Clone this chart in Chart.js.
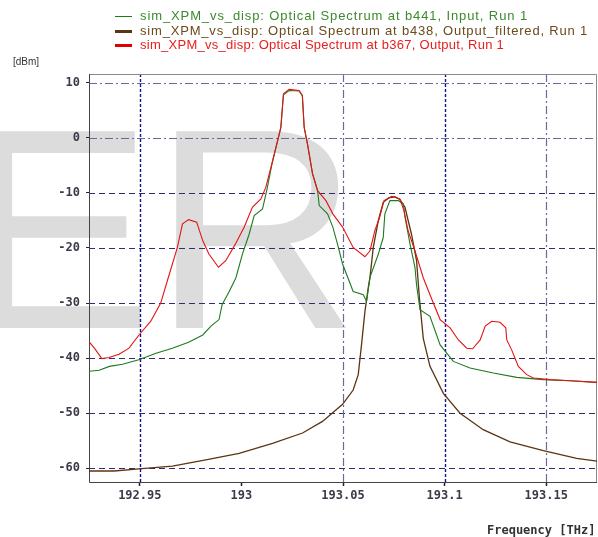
<!DOCTYPE html>
<html>
<head>
<meta charset="utf-8">
<script src="https://cdn.jsdelivr.net/npm/chart.js@4.4.1/dist/chart.umd.min.js"></script>
<style>
  body { margin: 0; background: #fff; }
  #wrap { position: relative; width: 598px; height: 537px; }
  .leg { position: absolute; left: 115px; font: 13px "Liberation Sans", Arial, sans-serif; white-space: nowrap; line-height: 14px; }
  .leg i { display: inline-block; width: 17px; vertical-align: middle; margin-right: 8px; }
  .unit { position: absolute; font-family: "DejaVu Sans Mono", monospace; color: #333; }
</style>
</head>
<body>
<div id="wrap">
  <canvas id="chart" width="598" height="537"></canvas>
  <div class="leg" style="top:9px;color:#3b8a2e"><i style="border-top:1px solid #1f7a1f"></i><span data-w="388">sim_XPM_vs_disp: Optical Spectrum at b441, Input, Run 1</span></div>
  <div class="leg" style="top:24px;color:#6b4a1c"><i style="border-top:3px solid #5c3510"></i><span data-w="448">sim_XPM_vs_disp: Optical Spectrum at b438, Output_filtered, Run 1</span></div>
  <div class="leg" style="top:38px;color:#e81e1e"><i style="border-top:3px solid #e00000"></i><span data-w="364">sim_XPM_vs_disp: Optical Spectrum at b367, Output, Run 1</span></div>
  <div class="unit" style="left:13px;top:56px;font:10px 'Liberation Sans',Arial,sans-serif;">[dBm]</div>
  <div class="unit" style="left:487px;top:523px;font-size:12px;font-weight:bold;">Frequency [THz]</div>
</div>
<script>
// axis ticks
const xTicks = [192.95, 193, 193.05, 193.1, 193.15];
const yTicks = [-60, -50, -40, -30, -20, -10, 0, 10];

// Input (green)
const inputFreq = [192.925, 192.930, 192.935, 192.9415, 192.9495, 192.958, 192.966, 192.974, 192.981, 192.985,
  192.989, 192.9905, 192.994, 192.9973, 193.0005, 193.0038, 193.0063, 193.0104, 193.0128, 193.015,
  193.0194, 193.0207, 193.0235, 193.0284, 193.030, 193.0309, 193.0325, 193.035, 193.0375, 193.0383,
  193.0424, 193.045, 193.0473, 193.0498, 193.055, 193.060, 193.0616, 193.0633, 193.0674, 193.0698,
  193.0706, 193.0731, 193.0772, 193.0797, 193.0805, 193.083, 193.0854, 193.0862, 193.0879, 193.0928,
  193.0978, 193.1043, 193.1125, 193.124, 193.1355, 193.1486, 193.1618, 193.175];
const inputDbm = [-42.4, -42.2, -41.5, -41.1, -40.3, -39.1, -38.2, -37.1, -35.8, -34.2,
  -33.0, -30.3, -27.9, -25.4, -21.1, -17.5, -14.1, -12.9, -9.0, -4.8,
  1.8, 7.8, 8.6, 8.5, 7.6, 1.9, -1.1, -6.5, -9.6, -12.3,
  -13.8, -16.2, -19.3, -22.9, -27.9, -28.5, -29.7, -25.3, -21.1, -18.1,
  -13.8, -11.4, -11.4, -12.0, -14.4, -19.3, -23.5, -26.7, -31.2, -32.4,
  -37.6, -40.6, -41.8, -42.7, -43.5, -43.9, -44.1, -44.4];

// Output_filtered (brown)
const filteredFreq = [192.925, 192.9373, 192.9496, 192.966, 192.9825, 192.9989, 193.0153, 193.0301, 193.0399, 193.0498,
  193.055, 193.0575, 193.0591, 193.0608, 193.0624, 193.0633, 193.0649, 193.0674, 193.0698, 193.0725,
  193.0755, 193.078, 193.0805, 193.0837, 193.0862, 193.0876, 193.0895, 193.0928, 193.0994, 193.1076,
  193.119, 193.1322, 193.1486, 193.165, 193.175];
const filteredDbm = [-60.5, -60.5, -60.1, -59.6, -58.5, -57.3, -55.5, -53.6, -51.5, -48.4,
  -45.8, -43.0, -37.6, -31.5, -27.3, -25.3, -19.9, -15.0, -11.7, -10.9,
  -10.7, -11.2, -12.6, -17.5, -22.3, -29.1, -36.4, -41.5, -46.4, -50.0,
  -53.0, -55.2, -56.8, -58.2, -58.7];

// Output (red)
const outputFreq = [192.925, 192.9283, 192.9313, 192.9349, 192.9398, 192.9447, 192.9496, 192.9554, 192.9603, 192.964,
  192.9685, 192.971, 192.974, 192.978, 192.981, 192.984, 192.9887, 192.9923, 192.997, 193.0014,
  193.0054, 193.0096, 193.012, 193.015, 193.0194, 193.0207, 193.0235, 193.0284, 193.030, 193.0309,
  193.0325, 193.035, 193.0375, 193.0416, 193.045, 193.0498, 193.055, 193.0608, 193.0633, 193.0657,
  193.0678, 193.0702, 193.074, 193.078, 193.080, 193.082, 193.0854, 193.0895, 193.0928, 193.0978,
  193.1027, 193.1068, 193.1109, 193.1138, 193.1175, 193.120, 193.1232, 193.1273, 193.1301, 193.1306,
  193.133, 193.1363, 193.1404, 193.1437, 193.152, 193.1618, 193.175];
const outputDbm = [-37.0, -38.5, -40.1, -39.9, -39.3, -38.2, -35.8, -33.3, -30.0, -25.4,
  -19.9, -15.6, -14.85, -15.3, -18.7, -21.1, -23.5, -22.3, -19.3, -16.2,
  -12.6, -11.1, -9.0, -4.7, 1.9, 8.0, 8.8, 8.6, 7.7, 1.9,
  -1.1, -6.5, -9.6, -11.4, -13.8, -16.2, -19.9, -21.6, -20.5, -16.8,
  -14.7, -11.4, -10.6, -11.1, -13.2, -16.8, -20.5, -25.4, -28.5, -33.0,
  -34.5, -36.7, -38.2, -38.3, -36.7, -34.2, -33.3, -33.5, -34.5, -36.7,
  -38.5, -41.5, -43.0, -43.6, -43.9, -44.1, -44.4];

const toPoints = (fs, vs) => fs.map((f, i) => ({ x: f, y: vs[i] }));

// stretch the legend text to the widths seen in the reference
document.querySelectorAll('.leg span').forEach(s => {
  const w = s.getBoundingClientRect().width;
  const target = +s.dataset.w;
  s.style.letterSpacing = ((target - w) / s.textContent.length).toFixed(3) + 'px';
});

// big grey "ER" behind the plot
const watermark = {
  id: 'watermark',
  beforeDraw(chart) {
    const ctx = chart.ctx;
    ctx.save();
    ctx.fillStyle = '#dcdcdc';
    ctx.font = '286px "Liberation Sans", Arial, sans-serif';
    ctx.textBaseline = 'alphabetic';
    ctx.fillText('ER', -38, 328);
    ctx.restore();
  }
};

// dashed grid lines and the frame
const gridStyles = {
  x: { 192.95: ['#14148a', [3, 2], 1.4], 193.05: ['#6a6a98', [8, 3, 2, 3], 1.2], 193.1: ['#14148a', [3, 2], 1.4], 193.15: ['#6a6a98', [8, 3, 2, 3], 1.2] },
  y: { 10: ['#6a6a98', [8, 3, 2, 3], 1.2], 0: ['#6a6a98', [8, 3, 2, 3], 1.2] }
};
const gridFrame = {
  id: 'gridFrame',
  beforeDatasetsDraw(chart) {
    const { ctx, chartArea: a, scales } = chart;
    ctx.save();
    yTicks.forEach(v => {
      const st = gridStyles.y[v] || ['#2e2e6e', [6, 4], 1.2];
      const y = Math.round(scales.y.getPixelForValue(v)) + 0.5;
      ctx.strokeStyle = st[0]; ctx.setLineDash(st[1]); ctx.lineWidth = st[2];
      ctx.beginPath(); ctx.moveTo(a.left, y); ctx.lineTo(a.right, y); ctx.stroke();
    });
    xTicks.forEach(v => {
      const st = gridStyles.x[v];
      if (!st) return;
      const x = Math.round(scales.x.getPixelForValue(v)) + 0.5;
      ctx.strokeStyle = st[0]; ctx.setLineDash(st[1]); ctx.lineWidth = st[2];
      ctx.beginPath(); ctx.moveTo(x, a.top); ctx.lineTo(x, a.bottom); ctx.stroke();
    });
    ctx.setLineDash([]);
    ctx.lineWidth = 1;
    ctx.strokeStyle = '#8a8a8a';
    ctx.beginPath(); ctx.moveTo(a.left, a.top + 0.5); ctx.lineTo(a.right - 0.5, a.top + 0.5); ctx.lineTo(a.right - 0.5, a.bottom); ctx.stroke();
    ctx.strokeStyle = '#444';
    ctx.beginPath(); ctx.moveTo(a.left + 0.5, a.top); ctx.lineTo(a.left + 0.5, a.bottom + 0.5); ctx.lineTo(a.right, a.bottom + 0.5); ctx.stroke();
    ctx.restore();
  }
};

const tickFont = { family: '"DejaVu Sans Mono", monospace', size: 12, weight: 'bold' };

new Chart(document.getElementById('chart'), {
  type: 'line',
  data: {
    datasets: [
      { label: 'sim_XPM_vs_disp: Optical Spectrum at b441, Input, Run 1', data: toPoints(inputFreq, inputDbm),
        borderColor: '#1f7a1f', borderWidth: 1.1, order: 1 },
      { label: 'sim_XPM_vs_disp: Optical Spectrum at b438, Output_filtered, Run 1', data: toPoints(filteredFreq, filteredDbm),
        borderColor: '#5c3510', borderWidth: 1.3, order: 2 },
      { label: 'sim_XPM_vs_disp: Optical Spectrum at b367, Output, Run 1', data: toPoints(outputFreq, outputDbm),
        borderColor: '#e41414', borderWidth: 1.1, order: 0 }
    ]
  },
  options: {
    responsive: false,
    animation: false,
    events: [],
    elements: { point: { radius: 0 }, line: { tension: 0 } },
    layout: { padding: { top: 74, right: 1, left: 0, bottom: 0 } },
    plugins: { legend: { display: false }, tooltip: { enabled: false } },
    scales: {
      x: {
        type: 'linear', min: 192.925, max: 193.175,
        afterBuildTicks: s => { s.ticks = xTicks.map(v => ({ value: v })); },
        afterFit: s => { s.height = 55; },
        grid: { drawOnChartArea: false, tickLength: 4, tickColor: '#222', tickWidth: 1.5 },
        border: { display: false },
        ticks: { font: tickFont, color: '#3a3a4a', padding: 3, maxRotation: 0, callback: v => String(v) }
      },
      y: {
        min: -62.5, max: 11.6,
        afterBuildTicks: s => { s.ticks = yTicks.map(v => ({ value: v })); },
        afterFit: s => { s.width = 89; },
        grid: { drawOnChartArea: false, tickLength: 3, tickColor: '#222' },
        border: { display: false },
        ticks: { font: tickFont, color: '#3a3a4a', padding: 6, callback: v => String(v) }
      }
    }
  },
  plugins: [watermark, gridFrame]
});
</script>
</body>
</html>
